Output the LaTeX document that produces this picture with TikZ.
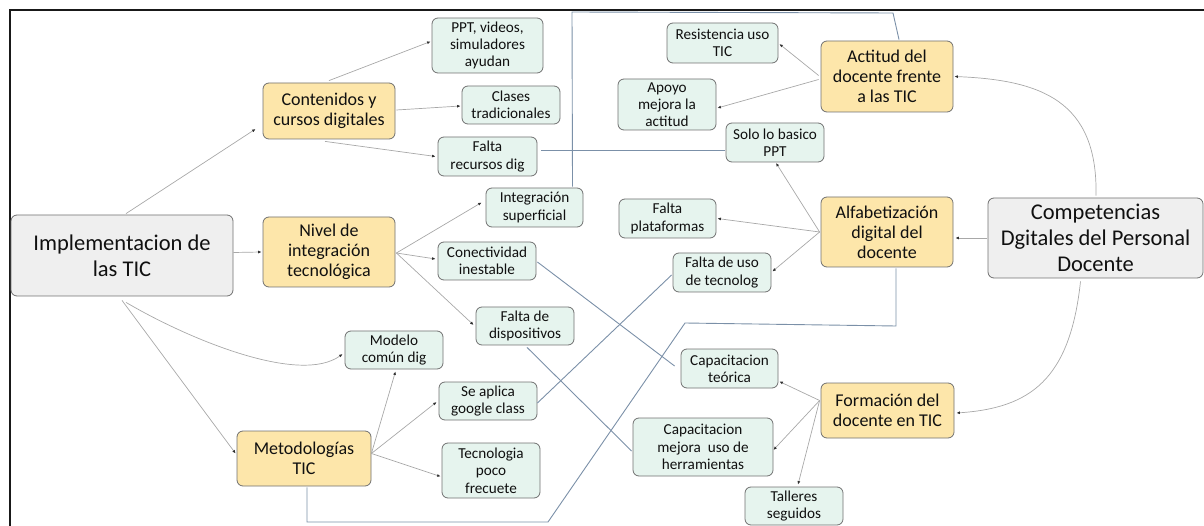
\documentclass[tikz,border=0pt]{standalone}
\usepackage{fontspec}
\setmainfont{Carlito}
\usetikzlibrary{arrows.meta,calc}
\definecolor{graybg}{HTML}{EFEFEF}
\definecolor{orangebg}{HTML}{FDE6AA}
\definecolor{greenbg}{HTML}{E6F4EE}
\definecolor{bordercol}{HTML}{707070}
\definecolor{txt}{HTML}{101010}
\definecolor{arrgray}{HTML}{A8A8A8}
\definecolor{arrtip}{HTML}{303030}
\definecolor{linkblue}{HTML}{7B90A8}
\tikzset{
  box/.style={draw=bordercol, rounded corners=6pt, line width=0.8pt, inner sep=0pt, align=center, text=txt},
  bignode/.style={box, fill=graybg, font=\fontsize{22.5}{26}\selectfont},
  midnode/.style={box, fill=orangebg, font=\fontsize{18}{20}\selectfont},
  leaf/.style={box, fill=greenbg, font=\fontsize{15.2}{17.3}\selectfont},
  arr/.style={draw=arrgray, line width=0.7pt, -{Latex[length=3.5pt,width=3pt,color=arrtip]}},
  link/.style={draw=linkblue, line width=0.9pt},
  frameline/.style={draw=black!90, line width=2pt}
}
\begin{document}
\begin{tikzpicture}[x=1pt,y=-1pt]
\useasboundingbox (0,0) rectangle (1204,526);
% frame
\coordinate (fbl) at (9.5,526);
\coordinate (ftl) at (9.5,10.5);
\coordinate (ftr) at (1204,10.5);
\draw[frameline] (fbl) -- (ftl) -- (ftr);

% main nodes
\node[bignode, minimum width=222pt, minimum height=81pt] (impl) at (122,255.5) {Implementacion de\\las TIC};
\node[bignode, minimum width=215pt, minimum height=80pt] (comp) at (1095.5,238) {Competencias\\Dgitales del Personal\\Docente};

% second level
\node[midnode, minimum width=132pt, minimum height=56pt] (cont) at (329,111) {Contenidos y\\cursos digitales};
\node[midnode, minimum width=132pt, minimum height=70pt] (nivel) at (329,252) {Nivel de\\integración\\tecnológica};
\node[midnode, minimum width=134pt, minimum height=55pt] (metod) at (304,458.5) {Metodologías\\TIC};
\node[midnode, minimum width=132pt, minimum height=71pt] (actitud) at (887,76.5) {Actitud del\\docente frente\\a las TIC};
\node[midnode, minimum width=132pt, minimum height=70pt] (alf) at (887,232) {Alfabetización\\digital del\\docente};
\node[midnode, minimum width=133pt, minimum height=55pt] (form) at (887.5,410.5) {Formación del\\docente en TIC};

% leaves
\node[leaf, minimum width=111pt, minimum height=55pt] (ppt) at (487.5,45.5) {PPT, videos,\\simuladores\\ayudan};
\node[leaf, minimum width=98pt, minimum height=38pt] (clases) at (511,105) {Clases\\tradicionales};
\node[leaf, minimum width=99pt, minimum height=39pt] (faltarec) at (487.5,156.5) {Falta\\recursos dig};
\node[leaf, minimum width=97pt, minimum height=39pt] (intsup) at (534.5,207.5) {Integración\\superficial};
\node[leaf, minimum width=98pt, minimum height=38pt] (conect) at (487,261) {Conectividad\\inestable};
\node[leaf, minimum width=98pt, minimum height=38pt] (faltadisp) at (525,326) {Falta de\\dispositivos};
\node[leaf, minimum width=98pt, minimum height=38pt] (modelo) at (394,350) {Modelo\\común dig};
\node[leaf, minimum width=98pt, minimum height=38pt] (seaplica) at (488,401) {Se aplica\\google class};
\node[leaf, minimum width=98pt, minimum height=55pt] (tecno) at (491,470.5) {Tecnologia\\poco\\frecuete};
\node[leaf, minimum width=111pt, minimum height=40pt] (resist) at (722.5,43) {Resistencia uso\\TIC};
\node[leaf, minimum width=98pt, minimum height=51pt] (apoyo) at (667,104.5) {Apoyo\\mejora la\\actitud};
\node[leaf, minimum width=98pt, minimum height=39pt] (solo) at (775,142.5) {Solo lo basico\\PPT};
\node[leaf, minimum width=97pt, minimum height=39pt] (faltaplat) at (667.5,218.5) {Falta\\plataformas};
\node[leaf, minimum width=98pt, minimum height=39pt] (faltauso) at (722,272.5) {Falta de uso\\de tecnolog};
\node[leaf, minimum width=97pt, minimum height=39pt] (capteo) at (729.5,368.5) {Capacitacion\\teórica};
\node[leaf, minimum width=140pt, minimum height=58pt] (capmej) at (703,447) {Capacitacion\\mejora~ uso de\\herramientas};
\node[leaf, minimum width=98pt, minimum height=38pt] (talleres) at (794,506) {Talleres\\seguidos};

% gray arrows
\draw[arr] ($(impl.north)+(4,-1)$) -- ($(cont.west)+(-7,18)$);
\draw[arr] ($(impl.east)+(0,-3)$) -- ($(nivel.west)+(-1,0)$);
\draw[arr] ($(impl.south)+(0,4)$) -- ($(metod.west)+(-1,-5)$);
\draw[arr] ($(impl.south)+(4,6)$) .. controls (190,340) and (300,385) .. ($(modelo.west)+(-2,4)$);
\draw[arr] ($(cont.north)+(0,-2)$) -- ($(ppt.west)+(-1,-4)$);
\draw[arr] ($(cont.east)+(1,-1)$) -- ($(clases.west)+(-1,1)$);
\draw[arr] ($(cont.south)+(-4,2)$) -- ($(faltarec.west)+(-2,0)$);
\draw[arr] ($(nivel.east)+(1,1)$) -- ($(intsup.west)+(-4,-5)$);
\draw[arr] ($(nivel.east)+(1,1)$) -- ($(conect.west)+(-2,-2)$);
\draw[arr] ($(nivel.east)+(1,1)$) -- ($(faltadisp.west)+(-2,-1)$);
\draw[arr] ($(metod.east)+(0,-5)$) -- ($(modelo.south)+(1.5,2)$);
\draw[arr] ($(metod.east)+(0,-5)$) -- ($(seaplica.west)+(-2,1)$);
\draw[arr] ($(metod.east)+(0,-5)$) -- ($(tecno.west)+(-1,6)$);
\draw[arr] ($(actitud.west)+(-2,-1)$) -- ($(resist.east)+(1,1)$);
\draw[arr] ($(actitud.west)+(-2,3)$) -- ($(apoyo.east)+(1,3.5)$);
\draw[arr] ($(alf.west)+(-1,0)$) -- ($(solo.south)+(1,0.5)$);
\draw[arr] ($(alf.west)+(-1,0)$) -- ($(faltaplat.east)+(1,0)$);
\draw[arr] ($(alf.west)+(-1,0)$) -- ($(faltauso.east)+(1,-1)$);
\draw[arr] ($(form.west)+(-1,-10)$) -- ($(capteo.east)+(1,13)$);
\draw[arr] ($(form.west)+(-1,-10)$) -- ($(capmej.east)+(0,3)$);
\draw[arr] ($(form.west)+(-1,-10)$) -- ($(talleres.north)+(4,-2)$);
\draw[arr] ($(comp.north)+(0.5,-2)$) .. controls (1098,100) and (1040,80) .. ($(actitud.east)+(1,0)$);
\draw[arr] ($(comp.west)+(-1,0)$) -- ($(alf.east)+(2,6)$);
\draw[arr] ($(comp.south)+(-15,3)$) .. controls (1070,380) and (1030,408) .. ($(form.east)+(2,2.5)$);

% blue-gray links
\draw[link] ($(faltarec.east)+(4,-6)$) -- ($(solo.west)+(-1,8)$);
\draw[link] ($(intsup.north)+(38,-1)$) -- (572,12) -- (893,13) -- ($(actitud.north)+(12,-1)$);
\draw[link] ($(conect.east)+(1,1)$) -- ($(capteo.west)+(-6,-2.5)$);
\draw[link] ($(faltadisp.south)+(2,2)$) -- ($(capmej.west)+(-1,4)$);
\draw[link] ($(seaplica.east)+(0,2)$) -- ($(faltauso.west)+(-1,2.5)$);
\draw[link] ($(metod.south)+(3,1)$) -- (307,522) -- (548,522) -- (685,323) -- (896,326) -- ($(alf.south)+(9,1)$);
\end{tikzpicture}
\end{document}
